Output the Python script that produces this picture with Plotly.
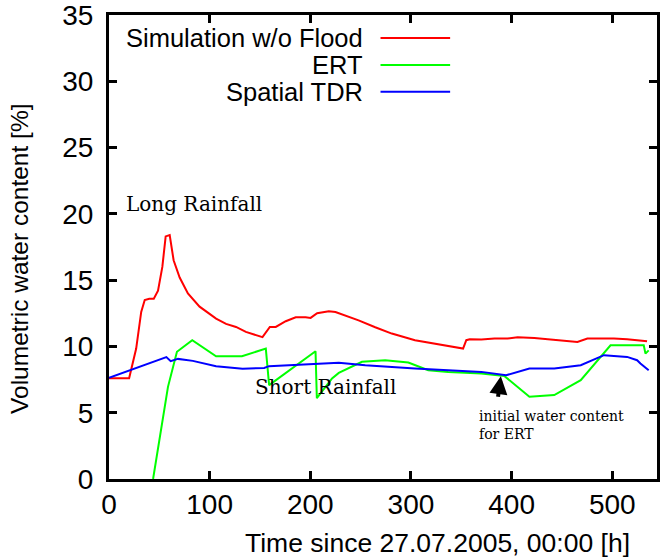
import plotly.graph_objects as go

# ---------------- data ----------------
sim_x = [0, 20, 27, 32, 35.5, 40, 44.5, 48.7, 53, 56.3, 60.3, 64.2, 70.2, 78.4, 90, 106.4,
         116.3, 126.2, 136, 152.5, 159.8, 165.7, 175.6, 185.5, 195.3, 200.3, 206.8, 218.4,
         225, 238, 248, 264.5, 281, 304, 327, 351.8, 355, 358.4, 370, 383, 396, 406, 422.6,
         445.7, 465.4, 475.3, 501.7, 514.8, 524.7, 534.6]
sim_y = [7.6, 7.6, 9.84, 12.6, 13.5, 13.6, 13.6, 14.2, 16.0, 18.3, 18.4, 16.5, 15.2, 14.0,
         13.0, 12.1, 11.7, 11.47, 11.1, 10.7, 11.47, 11.47, 11.9, 12.2, 12.2, 12.15, 12.5,
         12.65, 12.6, 12.25, 11.97, 11.45, 10.97, 10.47, 10.17, 9.84, 10.47, 10.54, 10.52,
         10.6, 10.6, 10.7, 10.64, 10.47, 10.34, 10.6, 10.6, 10.54, 10.47, 10.4]

ert_x = [43.8, 58.6, 67.5, 82.7, 106.4, 132.1, 155.8, 159.1, 205.2, 206.5, 221.6, 228.3,
         251.3, 274.4, 297.4, 317.2, 337, 369.9, 393, 417.7, 442.4, 468.7, 498.3, 531.3,
         533, 536.2]
ert_y = [0, 6.95, 9.6, 10.47, 9.26, 9.26, 9.84, 7.08, 9.64, 6.1, 7.58, 8.0, 8.84, 8.96,
         8.79, 8.2, 8.08, 7.96, 7.76, 6.2, 6.33, 7.45, 10.09, 10.09, 9.46, 9.7]

tdr_x = [0, 57, 61.3, 68.5, 83.3, 106.4, 132.7, 154.2, 159, 188.7, 228.3, 254.6, 287.5,
         304, 337, 369.9, 394.6, 417.7, 442.4, 468.7, 491.8, 514.8, 524.7, 528, 536.2]
tdr_y = [7.63, 9.2, 8.89, 9.06, 8.91, 8.51, 8.31, 8.38, 8.51, 8.61, 8.76, 8.58, 8.38,
         8.33, 8.2, 8.08, 7.83, 8.33, 8.33, 8.58, 9.34, 9.21, 8.96, 8.71, 8.2]

series_names = ["Simulation w/o Flood", "ERT", "Spatial TDR"]
series_colors = ["#ff0000", "#00ff00", "#0000ff"]

x_ticks = [0, 100, 200, 300, 400, 500]
y_ticks = [0, 5, 10, 15, 20, 25, 30, 35]

x_title = "Time since 27.07.2005, 00:00 [h]"
y_title = "Volumetric water content [%]"

# ---------------- layout constants ----------------
W, H = 660, 560
L, R, T, B = 109, 0, 14, 81
PW, PH = W - L - R, H - T - B


def px(xp):
    return (xp - L) / PW


def py(yp):
    return (H - B - yp) / PH


SANS = "Liberation Sans, Arial, sans-serif"
SERIF = "DejaVu Serif, serif"

fig = go.Figure()
for xs, ys, name, col in zip([sim_x, ert_x, tdr_x], [sim_y, ert_y, tdr_y],
                             series_names, series_colors):
    fig.add_trace(go.Scatter(x=xs, y=ys, mode="lines", name=name,
                             line=dict(color=col, width=2), showlegend=False))

annotations = []
shapes = []
# legend (gnuplot style: text right-aligned, sample on right)
legend_rows = [37, 64, 91]
for name, col, yr in zip(series_names, series_colors, legend_rows):
    annotations.append(dict(xref="paper", yref="paper", x=px(366), y=py(yr),
                            text=name, showarrow=False, xanchor="right", yanchor="middle",
                            font=dict(family=SANS, size=25.5, color="black")))
    shapes.append(dict(type="line", xref="paper", yref="paper", x0=px(382), x1=px(452),
                       y0=py(yr), y1=py(yr), line=dict(color=col, width=2)))

# text labels
annotations += [
    dict(xref="paper", yref="paper", x=px(124), y=py(203), text="Long Rainfall",
         showarrow=False, xanchor="left", yanchor="middle",
         font=dict(family=SERIF, size=20, color="black")),
    dict(xref="paper", yref="paper", x=px(254), y=py(387), text="Short Rainfall",
         showarrow=False, xanchor="left", yanchor="middle",
         font=dict(family=SERIF, size=20, color="black")),
    dict(xref="paper", yref="paper", x=px(479), y=py(425),
         text="initial water content<br>for ERT", align="left",
         showarrow=False, xanchor="left", yanchor="middle",
         font=dict(family=SERIF, size=14, color="black")),
    dict(xref="paper", yref="paper", x=px(503), y=py(376), ax=-3, ay=22, text="",
         showarrow=True, arrowhead=2, arrowwidth=4, arrowsize=0.9, arrowcolor="black"),
    dict(xref="paper", yref="paper", x=px(439), y=py(543), text=x_title,
         showarrow=False, xanchor="center", yanchor="middle",
         font=dict(family=SANS, size=26.5, color="black")),
    dict(xref="paper", yref="paper", x=px(19), y=py(258), text=y_title, textangle=-90,
         showarrow=False, xanchor="center", yanchor="middle",
         font=dict(family=SANS, size=24.5, color="black")),
]

axis_common = dict(showgrid=False, zeroline=False, ticks="inside", ticklen=8,
                   tickwidth=2.5, tickcolor="black", ticklabeloverflow="allow",
                   tickfont=dict(family=SANS, size=28, color="black"))

fig.update_layout(
    width=W, height=H,
    margin=dict(l=L, r=R, t=T, b=B),
    paper_bgcolor="white", plot_bgcolor="white",
    xaxis=dict(range=[0, PW / 1.012], tickvals=x_ticks, showline=True, linewidth=3,
               linecolor="black", mirror="ticks", ticklabelstandoff=-2, **axis_common),
    yaxis=dict(range=[0, 35], tickvals=y_ticks, showline=True, linewidth=3,
               linecolor="black", mirror="ticks", ticklabelstandoff=7, **axis_common),
    annotations=annotations,
    shapes=shapes,
)

fig.write_html("out.html", config={"displayModeBar": False},
               post_script="document.body.style.margin='0';document.body.style.padding='0';")
